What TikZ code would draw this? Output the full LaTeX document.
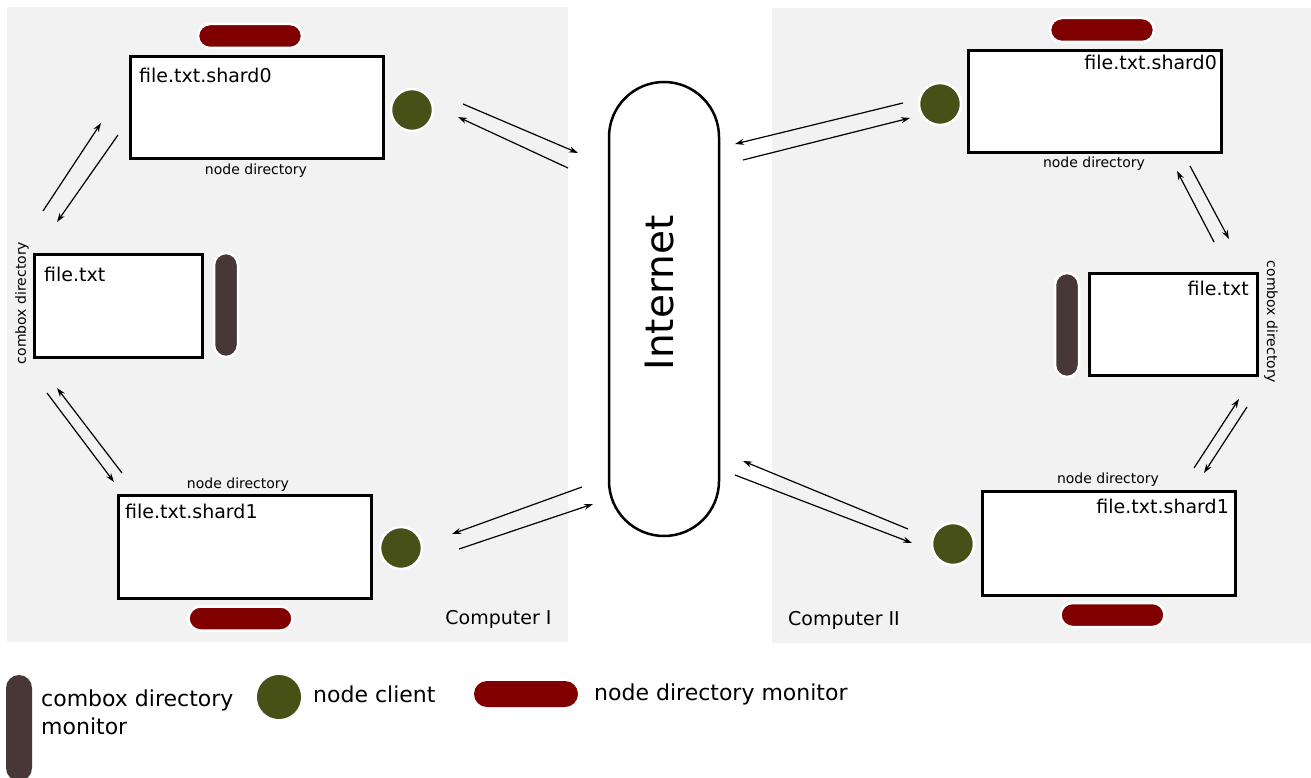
\documentclass[tikz,border=0pt]{standalone}
\usepackage{fontspec}
\setmainfont{DejaVu Sans}
\usetikzlibrary{arrows.meta}
\definecolor{panelgray}{HTML}{F2F2F2}
\definecolor{dirred}{HTML}{800000}
\definecolor{clientgreen}{HTML}{465017}
\definecolor{comboxbrown}{HTML}{483737}
\tikzset{
  panel/.style={fill=panelgray, draw=none},
  dirbox/.style={draw=black, fill=white, line width=3pt, rectangle, inner sep=0pt},
  hpill/.style={fill=dirred, draw=white, line width=2.5pt, rectangle, rounded corners=12pt, minimum width=104pt, minimum height=24pt, inner sep=0pt},
  vpill/.style={fill=comboxbrown, draw=white, line width=2.5pt, rectangle, rounded corners=12pt, minimum width=24pt, minimum height=104pt, inner sep=0pt},
  client/.style={circle, fill=clientgreen, draw=white, line width=2.5pt, minimum size=42pt, inner sep=0pt},
  fname/.style={font=\fontsize{19}{23}\selectfont, inner sep=0pt},
  small/.style={font=\fontsize{14}{17}\selectfont, inner sep=0pt},
  big/.style={font=\fontsize{19}{23}\selectfont, inner sep=0pt},
  legtext/.style={font=\fontsize{22}{27.5}\selectfont, inner sep=0pt, align=left},
  flow/.style={line width=1.2pt, -{Stealth[length=9pt,width=6pt]}},
  net/.style={draw=black, fill=white, line width=2.5pt, rectangle, rounded corners=55pt, minimum width=110pt, minimum height=454pt, inner sep=0pt}
}
\begin{document}
\begin{tikzpicture}[x=1pt,y=-1pt]
\useasboundingbox (0,0) rectangle (1311,778);
% panels
\fill[panel] (7,7) rectangle (568,642);
\fill[panel] (772,8) rectangle (1311,643);

% ---------- Computer I ----------
\node[dirbox, minimum width=253pt, minimum height=102pt] (sh0L) at (257,107.5) {};
\node[fname, anchor=base west] (sh0Lt) at (139,83) {file.txt.shard0};
\node[small] (sh0Ll) at (256,171) {node directory};
\node[hpill] (sh0Lm) at (250,36) {};
\node[client] (cl0L) at (412,110) {};

\node[dirbox, minimum width=168pt, minimum height=103pt] (fL) at (118.5,306) {};
\node[fname, anchor=base west] (fLt) at (44,281) {file.txt};
\node[vpill] (fLm) at (226,305) {};
\node[small, rotate=90] (fLl) at (22,303) {combox directory};

\node[dirbox, minimum width=253pt, minimum height=103pt] (sh1L) at (245,547) {};
\node[fname, anchor=base west] (sh1Lt) at (125,518) {file.txt.shard1};
\node[small] (sh1Ll) at (238,485) {node directory};
\node[hpill] (sh1Lm) at (240.5,618.5) {};
\node[client] (cl1L) at (401,548) {};

\node[big] (compI) at (498.5,619) {Computer I};

% ---------- Internet ----------
\node[net] (inet) at (664,309) {};
\node[font=\fontsize{39}{47}\selectfont, rotate=90, inner sep=0pt] (inett) at (660,293) {Internet};

% ---------- Computer II ----------
\node[dirbox, minimum width=253pt, minimum height=102pt] (sh0R) at (1095,101.5) {};
\node[fname, anchor=base east] (sh0Rt) at (1217,69.5) {file.txt.shard0};
\node[small] (sh0Rl) at (1094,164) {node directory};
\node[hpill] (sh0Rm) at (1102,30) {};
\node[client] (cl0R) at (940,104) {};

\node[dirbox, minimum width=168pt, minimum height=102pt] (fR) at (1173.5,324.5) {};
\node[fname, anchor=base east] (fRt) at (1249,295) {file.txt};
\node[vpill] (fRm) at (1067,325) {};
\node[small, rotate=-90] (fRl) at (1271,322) {combox directory};

\node[dirbox, minimum width=253pt, minimum height=104pt] (sh1R) at (1109,543.5) {};
\node[fname, anchor=base east] (sh1Rt) at (1229,513) {file.txt.shard1};
\node[small] (sh1Rl) at (1108,480) {node directory};
\node[hpill] (sh1Rm) at (1112.5,615) {};
\node[client] (cl1R) at (953,544) {};

\node[big] (compII) at (844,620) {Computer II};

% ---------- arrow endpoints ----------
\coordinate (e1) at (43,211);   \coordinate (e2) at (101,123);
\coordinate (f1) at (118,135);  \coordinate (f2) at (57,222);
\coordinate (g1) at (47,393);   \coordinate (g2) at (114,482);
\coordinate (h1) at (122,473);  \coordinate (h2) at (57,388);
\coordinate (a1) at (463,104);  \coordinate (a2) at (578,153);
\coordinate (b1) at (568,168);  \coordinate (b2) at (458,117);
\coordinate (c1) at (582,487);  \coordinate (c2) at (452,534);
\coordinate (d1) at (459,549);  \coordinate (d2) at (593,504);
\coordinate (ra1) at (903,103); \coordinate (ra2) at (735,144);
\coordinate (rb1) at (743,160); \coordinate (rb2) at (910,118);
\coordinate (rc1) at (908,529); \coordinate (rc2) at (743,461);
\coordinate (rd1) at (735,475); \coordinate (rd2) at (912,543);
\coordinate (ri1) at (1190,166); \coordinate (ri2) at (1229,239);
\coordinate (rj1) at (1214,242); \coordinate (rj2) at (1177,171);
\coordinate (rk1) at (1194,468); \coordinate (rk2) at (1239,399);
\coordinate (rl1) at (1247,407); \coordinate (rl2) at (1204,473);

\draw[flow] (e1) -- (e2);
\draw[flow] (f1) -- (f2);
\draw[flow] (g1) -- (g2);
\draw[flow] (h1) -- (h2);
\draw[flow] (a1) -- (a2);
\draw[flow] (b1) -- (b2);
\draw[flow] (c1) -- (c2);
\draw[flow] (d1) -- (d2);
\draw[flow] (ra1) -- (ra2);
\draw[flow] (rb1) -- (rb2);
\draw[flow] (rc1) -- (rc2);
\draw[flow] (rd1) -- (rd2);
\draw[flow] (ri1) -- (ri2);
\draw[flow] (rj1) -- (rj2);
\draw[flow] (rk1) -- (rk2);
\draw[flow] (rl1) -- (rl2);

% ---------- legend ----------
\node[vpill, draw=none, minimum height=106pt, minimum width=26pt, rounded corners=13pt] (lgC) at (19,728) {};
\node[legtext, anchor=base west] (lgCt) at (41,734) {combox directory\\monitor};
\node[client, draw=none, minimum size=44pt] (lgN) at (279,697) {};
\node[legtext, anchor=base west] (lgNt) at (313,702) {node client};
\node[hpill, draw=none, minimum width=104pt, minimum height=26pt, rounded corners=13pt] (lgD) at (526,694) {};
\node[legtext, anchor=base west] (lgDt) at (594,700) {node directory monitor};
\end{tikzpicture}
\end{document}
